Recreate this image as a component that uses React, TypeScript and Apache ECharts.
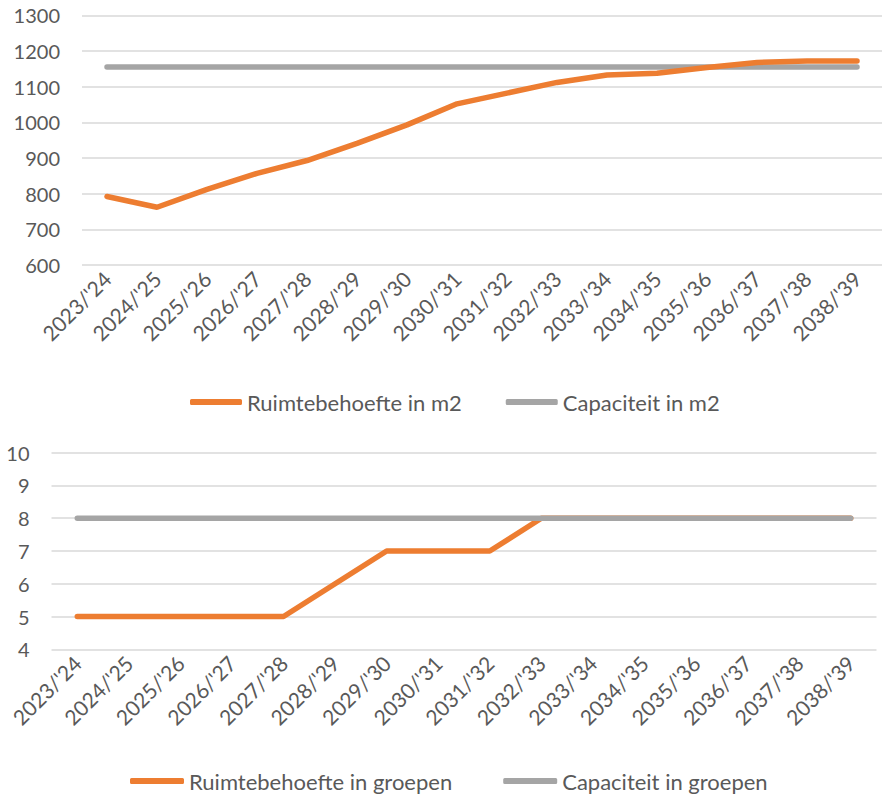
import React, { useEffect, useRef } from "react";
import * as echarts from "echarts";

const categories = [
  "2023/'24", "2024/'25", "2025/'26", "2026/'27", "2027/'28", "2028/'29",
  "2029/'30", "2030/'31", "2031/'32", "2032/'33", "2033/'34", "2034/'35",
  "2035/'36", "2036/'37", "2037/'38", "2038/'39",
];
const ruimteM2 = [792, 762, 812, 857, 893, 941, 993, 1052, 1082, 1112, 1133, 1138, 1154, 1168, 1172, 1172];
const capaciteitM2 = [1155, 1155, 1155, 1155, 1155, 1155, 1155, 1155, 1155, 1155, 1155, 1155, 1155, 1155, 1155, 1155];
const ruimteGroepen = [5, 5, 5, 5, 5, 6, 7, 7, 7, 8, 8, 8, 8, 8, 8, 8];
const capaciteitGroepen = [8, 8, 8, 8, 8, 8, 8, 8, 8, 8, 8, 8, 8, 8, 8, 8];

const ORANGE = "#ED7D31";
const GREY = "#A5A5A5";
const TEXT = "#595959";
const FONT = "Lato";

export default function App() {
  const ref = useRef<HTMLDivElement>(null);
  useEffect(() => {
    document.body.style.margin = "0";
    if (!ref.current) return;
    const chart = echarts.init(ref.current, undefined, { renderer: "svg" });
    const axisLabel = { color: TEXT, fontSize: 20, fontFamily: FONT };
    const splitLine = { show: true, lineStyle: { color: "#D9D9D9", width: 1.5 } };
    const xAxisBase = {
      type: "category" as const,
      data: categories,
      boundaryGap: true,
      axisLine: { show: false },
      axisTick: { show: false },
      axisLabel: { ...axisLabel, fontSize: 21, rotate: 45, interval: 0, margin: 10 },
    };
    const yAxisBase = {
      type: "value" as const,
      axisLine: { show: false },
      axisTick: { show: false },
      splitLine,
    };
    const lineBase = {
      type: "line" as const,
      symbol: "none",
      smooth: false,
    };
    const legendText = { color: TEXT, fontSize: 22, fontFamily: FONT };
    chart.setOption({
      animation: false,
      grid: [
        { left: 82, top: 15.4, width: 800, height: 249.6, containLabel: false },
        { left: 51.5, top: 452.7, width: 825, height: 196.6, containLabel: false },
      ],
      xAxis: [
        { ...xAxisBase, gridIndex: 0 },
        { ...xAxisBase, gridIndex: 1 },
      ],
      yAxis: [
        {
          ...yAxisBase, gridIndex: 0, min: 600, max: 1300, interval: 100,
          axisLabel: { ...axisLabel, margin: 22, formatter: (v: number) => String(v) },
        },
        {
          ...yAxisBase, gridIndex: 1, min: 4, max: 10, interval: 1,
          axisLabel: { ...axisLabel, margin: 22, formatter: (v: number) => String(v) },
        },
      ],
      legend: [
        {
          left: 185, top: 386,
          itemWidth: 52, itemHeight: 6, itemGap: 44,
          icon: "roundRect",
          textStyle: legendText,
          data: ["Ruimtebehoefte in m2", "Capaciteit in m2"],
        },
        {
          left: 125, top: 765,
          itemWidth: 54, itemHeight: 6, itemGap: 51,
          icon: "roundRect",
          textStyle: legendText,
          data: ["Ruimtebehoefte in groepen", "Capaciteit in groepen"],
        },
      ],
      series: [
        {
          ...lineBase, name: "Capaciteit in m2", xAxisIndex: 0, yAxisIndex: 0,
          data: capaciteitM2, z: 2,
          lineStyle: { color: GREY, width: 5.5, cap: "round" }, itemStyle: { color: GREY },
        },
        {
          ...lineBase, name: "Ruimtebehoefte in m2", xAxisIndex: 0, yAxisIndex: 0,
          data: ruimteM2, z: 3,
          lineStyle: { color: ORANGE, width: 5.5, cap: "round" }, itemStyle: { color: ORANGE },
        },
        {
          ...lineBase, name: "Ruimtebehoefte in groepen", xAxisIndex: 1, yAxisIndex: 1,
          data: ruimteGroepen, z: 2,
          lineStyle: { color: ORANGE, width: 5.5, cap: "round" }, itemStyle: { color: ORANGE },
        },
        {
          ...lineBase, name: "Capaciteit in groepen", xAxisIndex: 1, yAxisIndex: 1,
          data: capaciteitGroepen, z: 3,
          lineStyle: { color: GREY, width: 5.5, cap: "round" }, itemStyle: { color: GREY },
        },
      ],
    });
    return () => chart.dispose();
  }, []);
  return <div ref={ref} style={{ width: 882, height: 800 }} />;
}
